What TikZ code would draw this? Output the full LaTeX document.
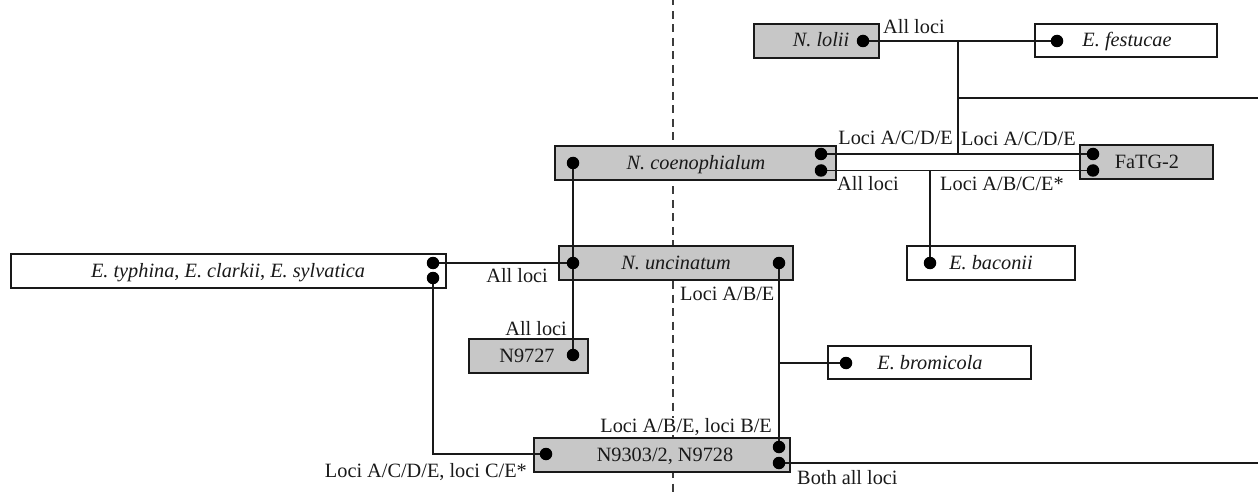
\documentclass[tikz,border=0pt]{standalone}
\usepackage{fontspec}
\setmainfont{Liberation Serif}
\definecolor{boxgray}{RGB}{199,199,199}
\definecolor{ink}{RGB}{25,25,25}
\begin{document}
\begin{tikzpicture}[x=1pt,y=-1pt,
  font=\fontsize{20.3}{23}\selectfont,
  taxon/.style={draw=ink, line width=1.3pt, inner sep=0pt},
  nbox/.style={taxon, fill=boxgray},
  ebox/.style={taxon, fill=white},
  link/.style={draw=ink, line width=1.2pt},
  dot/.style={circle, fill=black, inner sep=0pt, minimum size=12.5pt},
  tag/.style={inner sep=0pt, text=ink},
  divider/.style={draw=ink!85, line width=1.1pt, dash pattern=on 8pt off 5.5pt, dash phase=2.5pt}]
\useasboundingbox (0,0) rectangle (1258,497);

% dashed divider behind everything
\coordinate (div-top) at (673,0);
\coordinate (div-bot) at (673,497);
\draw[divider] (div-top) -- (div-bot);

% taxon boxes
\node[nbox, minimum width=125pt, minimum height=34pt] (lolii) at (816.5,41) {};
\node[ebox, minimum width=182pt, minimum height=33pt] (fest) at (1126,40.5) {};
\node[nbox, minimum width=133pt, minimum height=34pt] (fatg) at (1146.5,162) {};
\node[nbox, minimum width=281pt, minimum height=34pt] (coeno) at (695.5,163) {};
\node[nbox, minimum width=234pt, minimum height=34pt] (uncin) at (676,263) {};
\node[ebox, minimum width=435pt, minimum height=34pt] (typh) at (228.5,271) {};
\node[ebox, minimum width=168pt, minimum height=34pt] (bacon) at (991,263) {};
\node[nbox, minimum width=119pt, minimum height=34pt] (n9727) at (528.5,356) {};
\node[ebox, minimum width=203pt, minimum height=33pt] (bromi) at (929.5,362.5) {};
\node[nbox, minimum width=256pt, minimum height=34pt] (n9303) at (662,455) {};

% box texts
\node[tag, anchor=base] (lolii-t) at (821,47) {\textit{N. lolii}};
\node[tag, anchor=base] (fest-t) at (1127,47) {\textit{E. festucae}};
\node[tag, anchor=base] (fatg-t) at (1147,168.5) {FaTG-2};
\node[tag, anchor=base] (coeno-t) at (696,169.5) {\textit{N. coenophialum}};
\node[tag, anchor=base] (uncin-t) at (676,269.5) {\textit{N. uncinatum}};
\node[tag, anchor=base] (typh-t) at (228,277.5) {\textit{E. typhina}, \textit{E. clarkii}, \textit{E. sylvatica}};
\node[tag, anchor=base] (bacon-t) at (991,269.5) {\textit{E. baconii}};
\node[tag, anchor=base] (n9727-t) at (527,362.5) {N9727};
\node[tag, anchor=base] (bromi-t) at (930,369) {\textit{E. bromicola}};
\node[tag, anchor=base] (n9303-t) at (665,461.5) {N9303/2, N9728};

% attachment points
\coordinate (lolii-d) at (863,41);
\coordinate (fest-d) at (1057,41);
\coordinate (fatg-a) at (1093,154);
\coordinate (fatg-b) at (1093,170.5);
\coordinate (coeno-l) at (573,163);
\coordinate (coeno-a) at (821,154);
\coordinate (coeno-b) at (821,170.5);
\coordinate (uncin-l) at (573,263);
\coordinate (uncin-r) at (779,263);
\coordinate (typh-a) at (433,263);
\coordinate (typh-b) at (433,278);
\coordinate (bacon-d) at (930,263);
\coordinate (n9727-d) at (573,355);
\coordinate (bromi-d) at (846,363);
\coordinate (n9303-l) at (546,454);
\coordinate (n9303-a) at (779,447);
\coordinate (n9303-b) at (779,463);

% junctions and free ends
\coordinate (j-top) at (958,41);
\coordinate (j-mid) at (958,98);
\coordinate (j-low) at (958,154);
\coordinate (edge-top) at (1258,98);
\coordinate (j-bac) at (930,170.5);
\coordinate (j-bro) at (779,363);
\coordinate (edge-bot) at (1258,463);

% connectors
\draw[link] (lolii-d) -- (fest-d);
\draw[link] (j-top) -- (j-low);
\draw[link] (j-mid) -- (edge-top);
\draw[link] (coeno-a) -- (fatg-a);
\draw[link] (coeno-b) -- (fatg-b);
\draw[link] (j-bac) -- (bacon-d);
\draw[link] (coeno-l) -- (n9727-d);
\draw[link] (typh-a) -- (uncin-l);
\draw[link] (typh-b) |- (n9303-l);
\draw[link] (uncin-r) -- (n9303-a);
\draw[link] (j-bro) -- (bromi-d);
\draw[link] (n9303-b) -- (edge-bot);

% dots
\foreach \p in {lolii-d,fest-d,fatg-a,fatg-b,coeno-l,coeno-a,coeno-b,uncin-l,uncin-r,
                typh-a,typh-b,bacon-d,n9727-d,bromi-d,n9303-l,n9303-a,n9303-b}
  \node[dot] at (\p) {};

% connector labels
\node[tag, anchor=base west] (l-lolii) at (883,34) {All loci};
\node[tag, anchor=base east] (l-acde1) at (953,145) {Loci A/C/D/E};
\node[tag, anchor=base west] (l-acde2) at (961,146) {Loci A/C/D/E};
\node[tag, anchor=base west] (l-coeno) at (837,191) {All loci};
\node[tag, anchor=base west] (l-abce) at (940,191) {Loci A/B/C/E*};
\node[tag, anchor=base east] (l-typh) at (548,282) {All loci};
\node[tag, anchor=base east] (l-n9727) at (567,335) {All loci};
\node[tag, anchor=base west] (l-abe) at (680,300) {Loci A/B/E};
\node[tag, anchor=base east, fill=white] (l-abebe) at (772,432) {Loci A/B/E, loci B/E};
\node[tag, anchor=base west] (l-both) at (797,484) {Both all loci};
\node[tag, anchor=base east] (l-acdece) at (527,477) {Loci A/C/D/E, loci C/E*};
\end{tikzpicture}
\end{document}
